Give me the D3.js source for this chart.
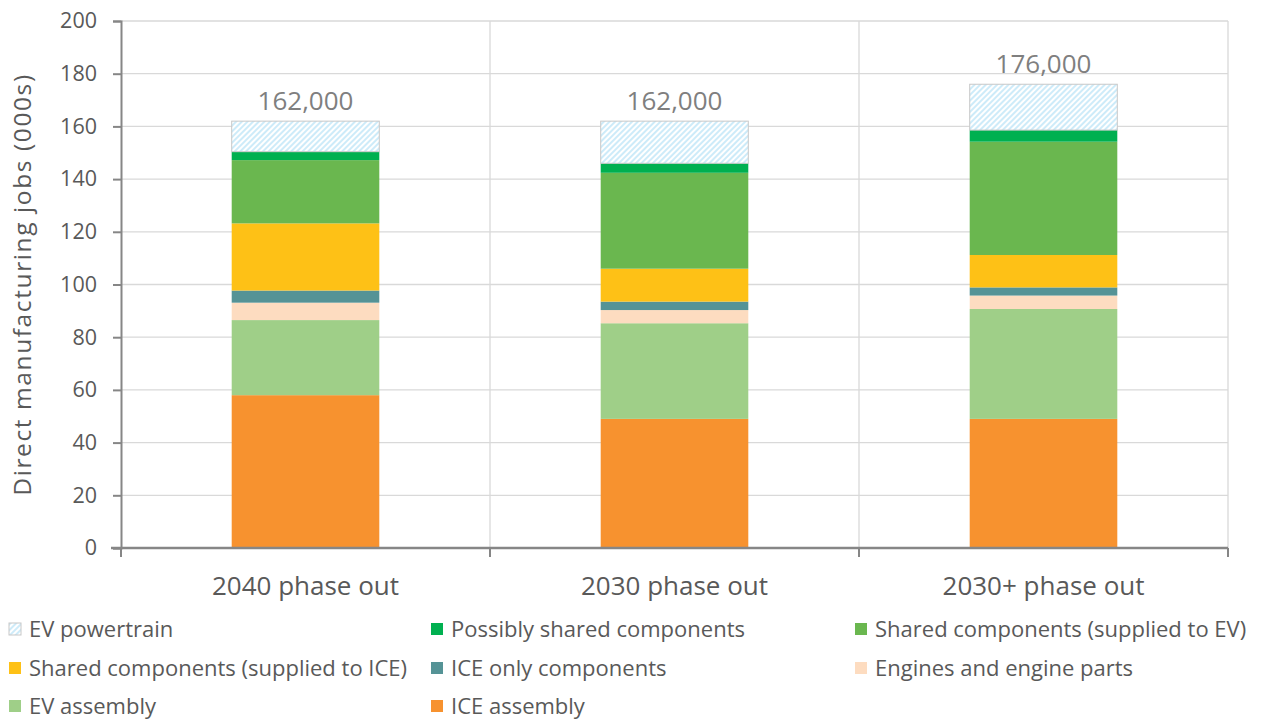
<!DOCTYPE html>
<html>
<head>
<meta charset="utf-8">
<script src="https://cdn.jsdelivr.net/npm/d3@7"></script>
<style>
  body { margin: 0; background: #fff; }
  svg { display: block; font-family: "Open Sans", "Noto Sans", sans-serif; }
</style>
</head>
<body>
<svg id="chart"></svg>
<script>
// categories and series (values in thousands of jobs)
const categories = ["2040 phase out", "2030 phase out", "2030+ phase out"];
const totalLabels = ["162,000", "162,000", "176,000"];

const iceAssembly      = [58.0, 49.0, 49.0];
const evAssembly       = [28.5, 36.3, 41.7];
const enginesParts     = [6.6, 5.0, 5.1];
const iceOnly          = [4.6, 3.2, 3.1];
const sharedICE        = [25.5, 12.5, 12.3];
const sharedEV         = [24.0, 36.4, 43.0];
const possiblyShared   = [3.2, 3.6, 4.4];
const evPowertrain     = [11.6, 16.0, 17.4];

const yTicks = [0, 20, 40, 60, 80, 100, 120, 140, 160, 180, 200];

// stacking order bottom -> top
const series = [
  {name: "ICE assembly", values: iceAssembly, color: "#F7922F"},
  {name: "EV assembly", values: evAssembly, color: "#9FCF88"},
  {name: "Engines and engine parts", values: enginesParts, color: "#FDDCC0"},
  {name: "ICE only components", values: iceOnly, color: "#559396"},
  {name: "Shared components (supplied to ICE)", values: sharedICE, color: "#FEC116"},
  {name: "Shared components (supplied to EV)", values: sharedEV, color: "#6AB74F"},
  {name: "Possibly shared components", values: possiblyShared, color: "#00B050"},
  {name: "EV powertrain", values: evPowertrain, color: "url(#hatch)"}
];

// legend order (rows of three)
const legendOrder = [
  "EV powertrain", "Possibly shared components", "Shared components (supplied to EV)",
  "Shared components (supplied to ICE)", "ICE only components", "Engines and engine parts",
  "EV assembly", "ICE assembly"
];

const w = 1266, h = 722;
const padLeft = 121, padRight = 1228, padTop = 21, padBottom = 548;

const svg = d3.select("#chart").attr("width", w).attr("height", h);

// hatch pattern for EV powertrain
const defs = svg.append("defs");
const pat = defs.append("pattern")
  .attr("id", "hatch")
  .attr("patternUnits", "userSpaceOnUse")
  .attr("width", 4).attr("height", 4)
  .attr("patternTransform", "rotate(45)");
pat.append("rect").attr("width", 4).attr("height", 4).attr("fill", "#fff");
pat.append("rect").attr("width", 2).attr("height", 4).attr("fill", "#CDEBF9");

const x = d3.scaleBand().domain(categories).range([padLeft, padRight]).paddingInner(0).paddingOuter(0);
const y = d3.scaleLinear().domain([0, 200]).range([padBottom, padTop]);
const barW = x.bandwidth() * 0.4;

// horizontal gridlines
svg.append("g")
  .selectAll("line")
  .data(yTicks.filter(d => d > 0))
  .enter().append("line")
  .attr("x1", padLeft).attr("x2", padRight)
  .attr("y1", d => y(d)).attr("y2", d => y(d))
  .attr("stroke", "#D9D9D9").attr("stroke-width", 1.3);

// vertical gridlines between categories
svg.append("g")
  .selectAll("line")
  .data(categories)
  .enter().append("line")
  .attr("x1", d => x(d) + x.bandwidth()).attr("x2", d => x(d) + x.bandwidth())
  .attr("y1", padTop).attr("y2", padBottom)
  .attr("stroke", "#D9D9D9").attr("stroke-width", 1.3);

// stacked bars
const rows = categories.map((c, i) => {
  const r = {cat: c};
  series.forEach(s => r[s.name] = s.values[i]);
  return r;
});
const stack = d3.stack().keys(series.map(s => s.name))(rows);

stack.forEach((layer, k) => {
  const s = series[k];
  svg.append("g")
    .selectAll("rect")
    .data(layer)
    .enter().append("rect")
    .attr("x", d => x(d.data.cat) + (x.bandwidth() - barW) / 2)
    .attr("width", barW)
    .attr("y", d => y(d[1]))
    .attr("height", d => y(d[0]) - y(d[1]))
    .attr("fill", s.color)
    .attr("stroke", s.name === "EV powertrain" ? "#C8C8C8" : "none")
    .attr("stroke-width", 1);
});

// total labels
const totals = categories.map((c, i) => d3.sum(series, s => s.values[i]));
svg.append("g")
  .selectAll("text")
  .data(categories)
  .enter().append("text")
  .attr("x", d => x(d) + x.bandwidth() / 2)
  .attr("y", (d, i) => y(totals[i]) - 11)
  .attr("text-anchor", "middle")
  .attr("fill", "#7F7F7F")
  .style("font-size", "26px")
  .text((d, i) => totalLabels[i]);

// y axis
const yAxis = svg.append("g")
  .attr("transform", `translate(${padLeft},0)`)
  .call(d3.axisLeft(y).tickValues(yTicks).tickSize(8).tickPadding(16));
yAxis.select(".domain").attr("stroke", "#868686").attr("stroke-width", 2);
yAxis.selectAll(".tick line").attr("stroke", "#868686").attr("stroke-width", 2);
yAxis.selectAll(".tick text").attr("fill", "#595959").style("font-size", "21.5px").style("font-family", "'Open Sans', sans-serif");

// x axis
const xAxis = svg.append("g")
  .attr("transform", `translate(0,${padBottom})`)
  .call(d3.axisBottom(x).tickSize(0).tickPadding(29));
xAxis.select(".domain").attr("stroke", "#868686").attr("stroke-width", 2.4)
  .attr("d", `M${padLeft - 10},0H${padRight}`);
xAxis.selectAll(".tick text").attr("fill", "#595959").style("font-size", "26px").style("font-family", "'Open Sans', sans-serif");

// x tick marks at band edges
svg.append("g")
  .selectAll("line")
  .data([padLeft].concat(categories.map(c => x(c) + x.bandwidth())))
  .enter().append("line")
  .attr("x1", d => d).attr("x2", d => d)
  .attr("y1", padBottom).attr("y2", padBottom + 9)
  .attr("stroke", "#868686").attr("stroke-width", 2);

// y axis title
svg.append("text")
  .attr("transform", `translate(31, ${(padTop + padBottom) / 2}) rotate(-90)`)
  .attr("text-anchor", "middle")
  .attr("fill", "#595959")
  .style("font-size", "24.5px")
  .style("letter-spacing", "1.6px")
  .text("Direct manufacturing jobs (000s)");

// legend
const legendCols = [9, 431, 855];
const legendRows = [629, 668, 706];
const legend = svg.append("g")
  .selectAll("g")
  .data(legendOrder)
  .enter().append("g")
  .attr("transform", (d, i) => `translate(${legendCols[i % 3]}, ${legendRows[Math.floor(i / 3)]})`);

legend.append("rect")
  .attr("x", 0).attr("y", -6)
  .attr("width", 12).attr("height", 12)
  .attr("fill", d => series.find(s => s.name === d).color)
  .attr("stroke", d => d === "EV powertrain" ? "#C8C8C8" : "none");

legend.append("text")
  .attr("x", 20).attr("y", 0)
  .attr("dy", "0.35em")
  .attr("fill", "#595959")
  .style("font-size", "22px")
  .text(d => d);
</script>
</body>
</html>
